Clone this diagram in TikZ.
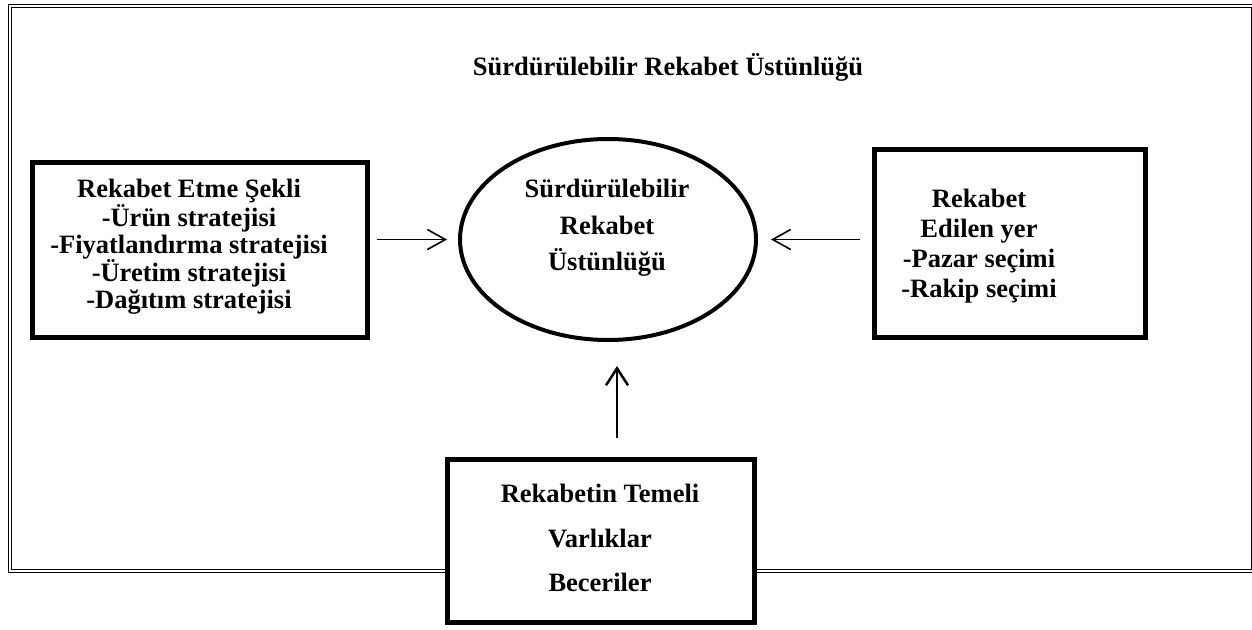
\documentclass[tikz,border=0pt]{standalone}
\usepackage{fontspec}
\setmainfont{Liberation Serif}
\usetikzlibrary{shapes.geometric,arrows.meta}

\begin{document}
\begin{tikzpicture}[x=1pt,y=-1pt,
  kutu/.style={draw,line width=5pt,fill=white,inner sep=0pt},
  yazi/.style={align=center,inner sep=0pt,font=\bfseries\fontsize{26.5}{#1}\selectfont},
  ok/.style={-{Straight Barb[length=18pt,width=20pt]},line width=1.6pt}]
\useasboundingbox (0,0) rectangle (1252,629);
% cerceve
\draw[line width=1pt] (8,4) rectangle (1254,572.5);
\draw[line width=1pt] (11,7) rectangle (1251,569.5);
\node[yazi=30] (baslik) at (668,67) {Sürdürülebilir Rekabet Üstünlüğü};
% orta
\node[draw,ellipse,line width=4pt,minimum width=296pt,minimum height=201pt,inner sep=0pt] (rsu) at (608,239.5) {};
\node[yazi=36.5] (rsuyazi) at (607,228) {Sürdürülebilir\\Rekabet\\Üstünlüğü};
% kutular
\node[kutu,minimum width=335pt,minimum height=175pt] (etme) at (200,250) {};
\node[yazi=27] (etmeyazi) at (189,247) {Rekabet Etme Şekli\\-Ürün stratejisi\\-Fiyatlandırma stratejisi\\-Üretim stratejisi\\-Dağıtım stratejisi};
\node[kutu,minimum width=271pt,minimum height=188pt] (yer) at (1010,243.5) {};
\node[yazi=30] (yeryazi) at (979,246) {Rekabet\\Edilen yer\\-Pazar seçimi\\-Rakip seçimi};
\node[kutu,minimum width=307pt,minimum height=163pt] (temel) at (601,541) {};
\node[yazi=44.5] (temelyazi) at (600,538) {Rekabetin Temeli\\Varlıklar\\Beceriler};
% oklar
\draw[ok,shorten <=7pt,shorten >=11pt] (etme.east |- rsu.west) -- (rsu.west);
\draw[ok,shorten <=12pt,shorten >=13pt] (yer.west |- rsu.east) -- (rsu.east);
\draw[ok,line width=2.5pt,-{Straight Barb[length=17pt,width=22pt]},shorten <=19pt,shorten >=24pt]
  ([xshift=16pt]temel.north) -- ([xshift=9pt]rsu.south);
\end{tikzpicture}
\end{document}
